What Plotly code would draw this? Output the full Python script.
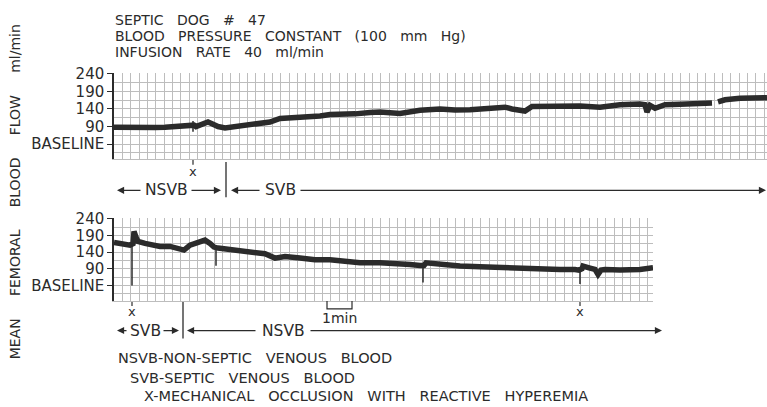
import plotly.graph_objects as go

# ---------------- data (time in minutes, flow in ml/min chart units) ----------------
top_t = [0.00, 0.44, 0.84, 1.24, 1.64, 2.04, 2.44, 2.84, 3.04, 3.12, 3.20, 3.28, 3.44, 3.64, 3.76,
         3.92, 4.16, 4.44, 4.84, 5.44, 5.84, 6.24, 6.64, 7.24, 7.84, 8.24, 8.64, 9.24, 9.64, 10.24,
         10.64, 11.44, 12.24, 13.04, 13.64, 14.24, 15.04, 15.64, 15.92, 16.16, 16.44, 16.72, 17.24,
         17.84, 18.64, 19.44, 20.24, 21.04, 21.24, 21.32, 21.44, 21.64, 22.04, 22.64, 23.04, 23.44,
         23.92, 24.04, 24.16, 24.44, 25.04, 25.64, 26.12]
top_v = [88, 87, 86, 88, 87, 88, 89, 90, 91, 92, 94, 90, 94, 100, 103,
         98, 90, 86, 89, 94, 98, 103, 113, 115, 117, 120, 124, 123, 126, 130,
         131, 127, 136, 140, 137, 138, 142, 145, 140, 137, 134, 147, 148,
         150, 148, 145, 152, 154, 152, 131, 150, 142, 152, 153, 154, 155,
         157, None, 160, 166, 170, 173, 172]
top_spike_t = [3.16]
top_spike_lo = [75]
top_spike_hi = [106]

bot_t = [0.00, 0.24, 0.44, 0.64, 0.76, 0.80, 0.88, 0.96, 1.24, 1.52, 1.84, 2.24, 2.64, 2.80,
         3.04, 3.44, 3.64, 3.84, 4.00, 4.16, 4.64, 5.04, 5.44, 6.04, 6.44, 6.84, 7.44, 8.04,
         8.64, 9.24, 9.84, 10.64, 11.04, 11.44, 11.84, 12.24, 12.32, 12.40, 12.48, 13.04, 13.84,
         14.64, 15.44, 16.24, 17.04, 17.84, 18.44, 18.60, 18.72, 18.76, 19.04, 19.24, 19.36,
         19.48, 19.64, 20.24, 21.04, 21.56]
bot_v = [169, 167, 166, 161, 165, 202, 185, 172, 166, 160, 157, 157, 152, 146,
         161, 171, 176, 166, 155, 152, 147, 143, 139, 135, 122, 127, 122, 117,
         117, 113, 108, 108, 107, 108, 103, 100, 98, 100, 108, 103, 98,
         96, 93, 93, 88, 88, 88, 86, 90, 98, 92, 88, 73,
         86, 88, 86, 88, 93]
bot_spike_t = [0.72, 4.08, 12.36, 18.64]
bot_spike_lo = [40, 99, 49, 44]
bot_spike_hi = [165, 155, 100, 88]

tick_vals = [40, 90, 140, 190, 240]
tick_text = ["BASELINE", "90", "140", "190", "240"]

title_lines = ["SEPTIC DOG # 47", "BLOOD PRESSURE CONSTANT (100 mm Hg)", "INFUSION RATE 40 ml/min"]
legend_lines = ["NSVB-NON-SEPTIC VENOUS BLOOD", "SVB-SEPTIC VENOUS BLOOD",
                "X-MECHANICAL OCCLUSION WITH REACTIVE HYPEREMIA"]
y_title = "MEAN FEMORAL BLOOD FLOW ml/min"

# ---------------- layout helpers ----------------
W, H = 767, 407
def px(x):
    return x / W
def py(y):
    return 1 - y / H

INK = "#2b2b2b"
GRID = "#bdbdbd"
FONT = "DejaVu Sans, Verdana, sans-serif"

def spaced(s, n=3):
    return s.replace(" ", "\u00a0" * n)

def spike_xy(ts, lo, hi):
    xs, ys = [], []
    for t, a, b in zip(ts, lo, hi):
        xs += [t, t, None]
        ys += [a, b, None]
    return xs, ys

fig = go.Figure()
fig.add_trace(go.Scatter(x=top_t, y=top_v, mode="lines", line=dict(color=INK, width=5.5),
                         connectgaps=False, xaxis="x", yaxis="y", showlegend=False))
sx, sy = spike_xy(top_spike_t, top_spike_lo, top_spike_hi)
fig.add_trace(go.Scatter(x=sx, y=sy, mode="lines", line=dict(color=INK, width=1.5),
                         xaxis="x", yaxis="y", showlegend=False))
fig.add_trace(go.Scatter(x=bot_t, y=bot_v, mode="lines", line=dict(color=INK, width=5.5),
                         xaxis="x2", yaxis="y2", showlegend=False))
sx, sy = spike_xy(bot_spike_t, bot_spike_lo, bot_spike_hi)
fig.add_trace(go.Scatter(x=sx, y=sy, mode="lines", line=dict(color=INK, width=1.5),
                         xaxis="x2", yaxis="y2", showlegend=False))

common_x = dict(showticklabels=False, ticks="", zeroline=False, showgrid=True, gridcolor=GRID,
                gridwidth=1, dtick=1/3, tick0=0, showline=True, linecolor=GRID, linewidth=1)
common_y = dict(tickvals=tick_vals, ticktext=tick_text, ticks="outside", ticklen=5, tickcolor=INK,
                tickwidth=1.2, showgrid=True, gridcolor=GRID, gridwidth=1, zeroline=False,
                showline=True, linecolor=INK, linewidth=1.5,
                tickfont=dict(family=FONT, size=15, color=INK),
                minor=dict(tick0=15, dtick=25, showgrid=True, gridcolor=GRID, gridwidth=1, ticks=""))

fig.update_layout(
    width=W, height=H, margin=dict(l=0, r=0, t=0, b=0),
    paper_bgcolor="white", plot_bgcolor="white", showlegend=False,
    xaxis=dict(domain=[px(114), 1.0], range=[0, 653/25], anchor="y", **common_x),
    yaxis=dict(domain=[py(154), py(66.3)], range=[-2, 242], anchor="x", **common_y),
    xaxis2=dict(domain=[px(114), px(653)], range=[0, 539/25], anchor="y2", **common_x),
    yaxis2=dict(domain=[py(299), py(214.3)], range=[-7, 242], anchor="x2", **common_y),
)

ann = []
shapes = []
# title lines
for line, yy in zip(title_lines, [12, 28.5, 45]):
    ann.append(dict(text=spaced(line), x=px(113), y=py(yy), xref="paper", yref="paper",
                    xanchor="left", yanchor="middle", showarrow=False,
                    font=dict(family=FONT, size=14, color=INK)))
# legend lines
for line, xx, yy in zip(legend_lines, [116, 128, 142], [357, 377, 396]):
    ann.append(dict(text=spaced(line), x=px(xx), y=py(yy), xref="paper", yref="paper",
                    xanchor="left", yanchor="middle", showarrow=False,
                    font=dict(family=FONT, size=14.5, color=INK)))
# y title
ann.append(dict(text=spaced(y_title, 5), x=px(15), y=py(188), xref="paper", yref="paper",
                textangle=-90, showarrow=False, xanchor="center", yanchor="middle",
                font=dict(family=FONT, size=14, color=INK)))

# phase labels and arrows
def label(t, x, y):
    ann.append(dict(text=t, x=px(x), y=py(y), xref="paper", yref="paper", showarrow=False,
                    xanchor="center", yanchor="middle", font=dict(family=FONT, size=15.5, color=INK)))

def arrow(x_tail, x_head, y):
    ann.append(dict(text="", x=px(x_head), y=py(y), xref="paper", yref="paper",
                    ax=x_tail - x_head, ay=0, showarrow=True, arrowhead=2, arrowsize=1.1,
                    arrowwidth=1.3, arrowcolor=INK))

label("NSVB", 166, 186); arrow(142, 117, 186); arrow(190, 221, 186)
label("SVB", 280, 186); arrow(261, 231, 186); arrow(299, 766, 186)
label("SVB", 145, 329); arrow(128, 117, 329); arrow(162, 179, 329)
label("NSVB", 283, 329); arrow(257, 187, 329); arrow(309, 662, 329)

for xx, y0, y1 in [(226, 157, 193), (183, 300, 337)]:
    shapes.append(dict(type="line", xref="paper", yref="paper", x0=px(xx), x1=px(xx),
                       y0=py(y0), y1=py(y1), line=dict(color=INK, width=1.3)))

# occlusion markers (at data times)
for t, xa, ya, tick in [(top_spike_t[0], "x", 167, (155, 160)),
                        (bot_spike_t[0], "x2", 310, (300, 304)),
                        (bot_spike_t[3], "x2", 310, (300, 304))]:
    ann.append(dict(text="x", x=t, y=py(ya), xref=xa, yref="paper", showarrow=False,
                    xanchor="center", yanchor="middle", font=dict(family=FONT, size=13, color=INK)))
    shapes.append(dict(type="line", xref=xa, yref="paper", x0=t, x1=t, y0=py(tick[0]), y1=py(tick[1]),
                       line=dict(color=INK, width=1.2)))

# 1 min bracket (bottom panel, scale 1 min)
b0 = (327 - 114) / 25
shapes.append(dict(type="path", xref="x2", yref="paper",
                   path=f"M {b0},{py(299)} L {b0},{py(307)} L {b0+1},{py(307)} L {b0+1},{py(299)}",
                   line=dict(color=INK, width=1.2)))
ann.append(dict(text="1min", x=b0 + 0.5, y=py(316), xref="x2", yref="paper", showarrow=False,
                xanchor="center", yanchor="middle", font=dict(family=FONT, size=14, color=INK)))

# faded chart paper at the right end of top panel
shapes.append(dict(type="rect", xref="paper", yref="paper", x0=px(690), x1=1.0, y0=py(155), y1=py(62),
                   fillcolor="rgba(255,255,255,0.55)", line=dict(width=0), layer="between"))

fig.update_layout(annotations=ann, shapes=shapes)
fig.write_html("out.html")
